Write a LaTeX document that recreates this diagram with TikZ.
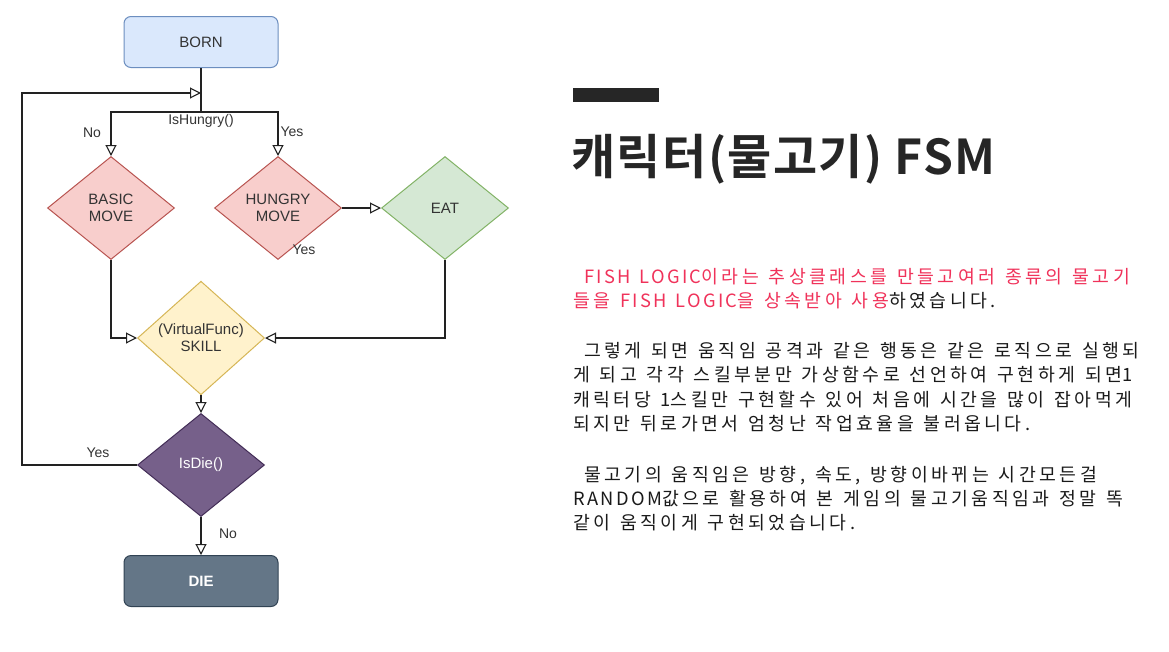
\documentclass[tikz,border=0pt]{standalone}
\usepackage{fontspec}
\setmainfont{Liberation Sans}
\newfontfamily\krtitle{Noto Sans CJK KR}[BoldFont={* Bold}, LetterSpace=3]
\newfontfamily\krbody{Noto Sans CJK KR}[LetterSpace=19, WordSpace=1.3]
\newfontfamily\latbody{Noto Sans CJK KR}[LetterSpace=13, WordSpace=1.3]
\newcommand\latn[1]{{\latbody #1}}
\usetikzlibrary{shapes.geometric,arrows.meta}
\definecolor{bornfill}{HTML}{DAE8FC}
\definecolor{bornline}{HTML}{6C8EBF}
\definecolor{redfill}{HTML}{F8CECC}
\definecolor{redline}{HTML}{B85450}
\definecolor{greenfill}{HTML}{D5E8D4}
\definecolor{greenline}{HTML}{82B366}
\definecolor{yellowfill}{HTML}{FFF2CC}
\definecolor{yellowline}{HTML}{D6B656}
\definecolor{purplefill}{HTML}{76608A}
\definecolor{purpleline}{HTML}{432D57}
\definecolor{greyfill}{HTML}{647687}
\definecolor{greyline}{HTML}{314354}
\definecolor{linec}{HTML}{222222}
\definecolor{labelc}{HTML}{333333}
\definecolor{titlec}{HTML}{262626}
\definecolor{redtext}{HTML}{F0325A}
\definecolor{bodyc}{HTML}{1A1A1A}
\tikzset{
  rbox/.style={rectangle, rounded corners=7pt, minimum width=154pt, minimum height=51pt, line width=1pt, font=\fontsize{15}{18}\selectfont, text=labelc},
  dia/.style={diamond, minimum width=127pt, minimum height=103pt, inner sep=0pt, line width=1pt, align=center, font=\fontsize{15}{17}\selectfont, text=labelc},
  arr/.style={draw=linec, line width=1.2pt, -{Triangle[open, length=11pt, width=11pt, line width=1.1pt]}},
  ln/.style={draw=linec, line width=1.2pt},
  lbl/.style={font=\fontsize{14}{16}\selectfont, text=labelc, inner sep=0pt},
  body/.style={anchor=base west, inner sep=0pt, font=\krbody\fontsize{18.3}{20}\selectfont, text=bodyc},
}
\begin{document}
\begin{tikzpicture}[x=1pt, y=-1pt]
\useasboundingbox (0,0) rectangle (1169,651);
\fill[white] (0,0) rectangle (1169,651);
% nodes
\node[rbox, fill=bornfill, draw=bornline] (born) at (201,42) {BORN};
\node[dia, fill=redfill, draw=redline] (basic) at (111,208) {BASIC\\MOVE};
\node[dia, fill=redfill, draw=redline] (hungry) at (278,208) {HUNGRY\\MOVE};
\node[dia, fill=greenfill, draw=greenline] (eat) at (445,208) {EAT};
\node[dia, fill=yellowfill, draw=yellowline] (skill) at (201,338) {(VirtualFunc)\\SKILL};
\node[dia, fill=purplefill, draw=purpleline, text=white] (isdie) at (201,465) {IsDie()};
\node[rbox, fill=greyfill, draw=greyline, text=white, font=\bfseries\fontsize{15}{18}\selectfont] (die) at (201,581) {DIE};
% coordinates
\coordinate (merge) at (201,93);
\coordinate (split) at (201,112);
\coordinate (loopcorner) at (22,465);
% connectors
\draw[ln] (born.south) -- (split);
\draw[arr] (split) -| (basic.north);
\draw[arr] (split) -| (hungry.north);
\draw[arr] (isdie.west) -- (loopcorner) |- (merge);
\draw[arr] (hungry.east) -- (eat.west);
\draw[arr] (eat.south) |- (skill.east);
\draw[arr] (basic.south) |- (skill.west);
\draw[arr] (skill.south) -- (isdie.north);
\draw[arr] (isdie.south) -- (die.north);
% labels
\node[lbl] (lhungry) at (201,121) {IsHungry()};
\node[lbl] (lno1) at (92,133) {No};
\node[lbl] (lyes1) at (292,132) {Yes};
\node[lbl] (lyes2) at (304,250) {Yes};
\node[lbl] (lyes3) at (98,453) {Yes};
\node[lbl] (lno2) at (228,534) {No};
% right side
\fill[titlec] (573,88) rectangle (659,102);
\node[anchor=base west, inner sep=0pt, text=titlec, font=\krtitle\bfseries\fontsize{48}{52}\selectfont] (title) at (571,174) {캐릭터(물고기) FSM};
\node[body] (t1) at (573,283) {\hspace*{11pt}\textcolor{redtext}{\latn{FISH LOGIC}이라는 추상클래스를 만들고여러 종류의 물고기}};
\node[body] (t2) at (573,307) {\textcolor{redtext}{들을 \latn{FISH LOGIC}을 상속받아 사용}하였습니다.};
\node[body] (t3) at (573,357) {\hspace*{11pt}그렇게 되면 움직임 공격과 같은 행동은 같은 로직으로 실행되};
\node[body] (t4) at (573,381) {게 되고 각각 스킬부분만 가상함수로 선언하여 구현하게 되면\latn{1}};
\node[body] (t5) at (573,406) {캐릭터당 \latn{1}스킬만 구현할수 있어 처음에 시간을 많이 잡아먹게};
\node[body] (t6) at (573,430) {되지만 뒤로가면서 엄청난 작업효율을 불러옵니다.};
\node[body] (t7) at (573,481) {\hspace*{11pt}물고기의 움직임은 방향, 속도, 방향이바뀌는 시간모든걸};
\node[body] (t8) at (573,505) {\latn{RANDOM}값으로 활용하여 본 게임의 물고기움직임과 정말 똑};
\node[body] (t9) at (573,529) {같이 움직이게 구현되었습니다.};
\end{tikzpicture}
\end{document}
